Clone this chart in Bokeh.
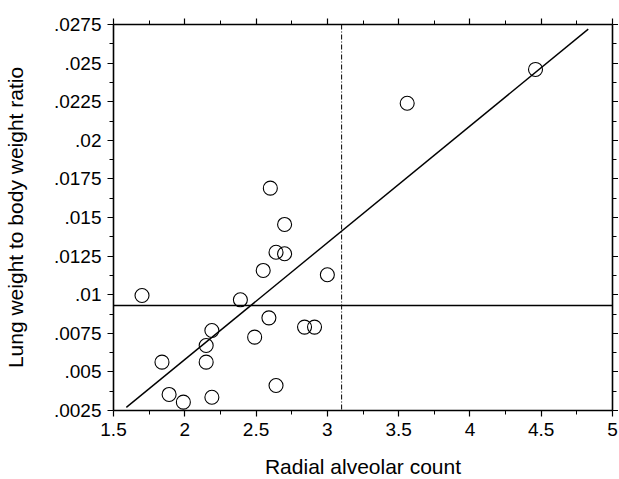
from bokeh.plotting import figure
from bokeh.models import LinearAxis, FixedTicker, CustomJSTickFormatter, Span, Range1d
from bokeh.embed import file_html
from bokeh.resources import INLINE

# Data
rac = [1.70, 1.84, 1.89, 1.99, 2.15, 2.15, 2.19, 2.19, 2.39, 2.49, 2.55, 2.59,
       2.60, 2.64, 2.70, 2.70, 2.64, 2.84, 2.91, 3.00, 3.56, 4.46]
ratio = [0.00995, 0.00563, 0.00354, 0.00304, 0.00671, 0.00563, 0.00768, 0.00336,
         0.00967, 0.00725, 0.01157, 0.00850, 0.01690, 0.01275, 0.01455, 0.01265,
         0.00412, 0.00790, 0.00790, 0.01129, 0.02240, 0.02459]
fit_x = [1.59, 4.83]
fit_y = [0.0027, 0.0272]
h_ref = 0.0093
v_ref = 3.1
x_ticks = [1.5, 2, 2.5, 3, 3.5, 4, 4.5, 5]
y_ticks = [0.0025, 0.005, 0.0075, 0.01, 0.0125, 0.015, 0.0175, 0.02, 0.0225, 0.025, 0.0275]

FONT = "Liberation Sans"

p = figure(width=618, height=486, x_range=Range1d(1.5, 5), y_range=Range1d(0.0025, 0.0275),
           output_backend="svg", toolbar_location=None,
           min_border_left=108, min_border_right=0, min_border_top=24, min_border_bottom=76,
           x_axis_label="Radial alveolar count", y_axis_label="Lung weight to body weight ratio")
p.grid.visible = False
p.outline_line_color = None
p.background_fill_color = "white"
p.border_fill_color = "white"

yfmt = CustomJSTickFormatter(code="return tick.toFixed(4).replace(/0+$/,'').replace(/^0/,'');")
xfmt = CustomJSTickFormatter(code="return String(Math.round(tick*10)/10);")
nofmt = CustomJSTickFormatter(code="return '';")

def style(ax, ticks, fmt, labels=True):
    ax.ticker = FixedTicker(ticks=ticks, minor_ticks=[(a + b) / 2 for a, b in zip(ticks[:-1], ticks[1:])])
    ax.formatter = fmt
    ax.axis_line_color = "black"
    ax.axis_line_width = 1.6
    ax.major_tick_line_color = "black"
    ax.minor_tick_line_color = "black"
    ax.major_tick_line_width = 1.2
    ax.minor_tick_line_width = 1.0
    ax.major_tick_in = 0
    ax.major_tick_out = 6
    ax.minor_tick_in = 0
    ax.minor_tick_out = 4
    ax.major_label_text_font = FONT
    ax.major_label_text_font_size = "19px"
    ax.major_label_text_color = "black"
    ax.major_label_standoff = 6
    ax.axis_label_text_font = FONT
    ax.axis_label_text_font_size = "21px"
    ax.axis_label_text_font_style = "normal"
    ax.axis_label_text_color = "black"
    if not labels:
        ax.major_label_standoff = 0

style(p.xaxis[0], x_ticks, xfmt)
style(p.yaxis[0], y_ticks, yfmt)
p.xaxis[0].axis_label_standoff = 16
p.yaxis[0].axis_label_standoff = 24

top = LinearAxis()
right = LinearAxis()
style(top, x_ticks, nofmt, labels=False)
style(right, y_ticks, nofmt, labels=False)
p.add_layout(top, "above")
p.add_layout(right, "right")

p.add_layout(Span(location=h_ref, dimension="width", line_color="black", line_width=1.3))
p.add_layout(Span(location=v_ref, dimension="height", line_color="black", line_width=1.0,
                  line_dash="5 2 1 2"))

p.line(fit_x, fit_y, line_color="black", line_width=1.4)
p.scatter(rac, ratio, size=14, marker="circle", fill_color=None, line_color="black", line_width=1.1)

open("out.html", "w").write(file_html(p, INLINE))
